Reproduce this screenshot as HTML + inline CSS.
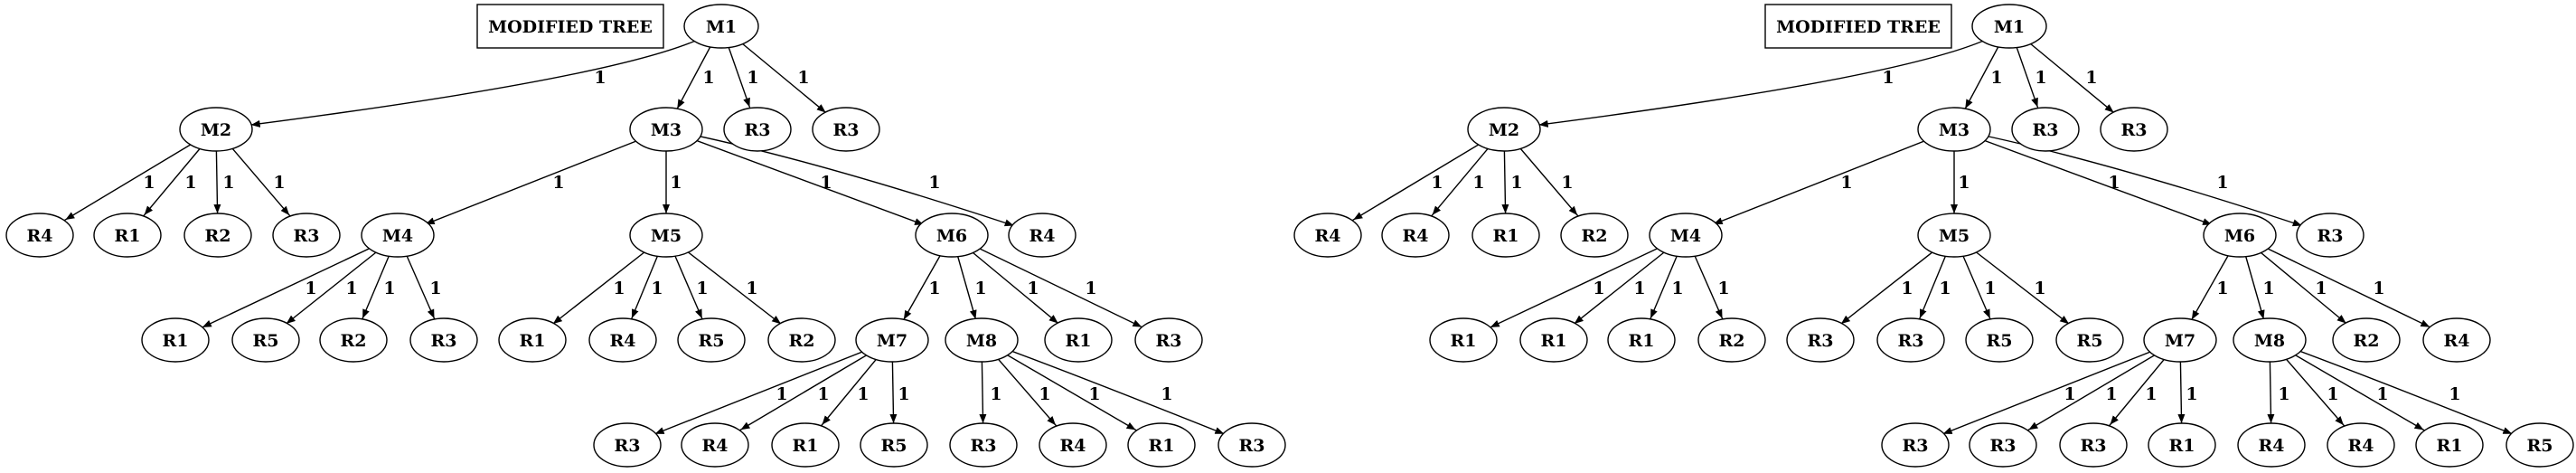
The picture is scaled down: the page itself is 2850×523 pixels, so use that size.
<!DOCTYPE html>
<html><head><meta charset="utf-8"><style>
html,body{margin:0;padding:0;background:#fff}
svg{display:block}
text{font-family:"DejaVu Serif","Liberation Serif",serif;font-weight:bold;font-size:19px;text-anchor:middle;fill:#000}
.e{stroke:#000;stroke-width:1.4;fill:none}
ellipse{fill:#fff;stroke:#000;stroke-width:1.4}
</style></head><body>
<svg width="2850" height="523" viewBox="0 0 2850 523" xmlns="http://www.w3.org/2000/svg">
<defs>
<marker id="m24" markerUnits="userSpaceOnUse" markerWidth="12" markerHeight="10" refX="34" refY="5" orient="auto"><path d="M0,1 L10,5 L0,9 z" fill="#000"/></marker>
<marker id="m26" markerUnits="userSpaceOnUse" markerWidth="12" markerHeight="10" refX="36" refY="5" orient="auto"><path d="M0,1 L10,5 L0,9 z" fill="#000"/></marker>
<marker id="m29" markerUnits="userSpaceOnUse" markerWidth="12" markerHeight="10" refX="39" refY="5" orient="auto"><path d="M0,1 L10,5 L0,9 z" fill="#000"/></marker>
<marker id="m33" markerUnits="userSpaceOnUse" markerWidth="12" markerHeight="10" refX="43" refY="5" orient="auto"><path d="M0,1 L10,5 L0,9 z" fill="#000"/></marker>
<marker id="m36" markerUnits="userSpaceOnUse" markerWidth="12" markerHeight="10" refX="49" refY="5" orient="auto"><path d="M0,1 L10,5 L0,9 z" fill="#000"/></marker>
</defs>

<!-- TREE 1 -->
<g>
<path class="e" d="M798,29 Q740,80 239,143" marker-end="url(#m36)"/>
<line class="e" x1="798" y1="29" x2="737" y2="143" marker-end="url(#m26)"/>
<line class="e" x1="798" y1="29" x2="838" y2="143" marker-end="url(#m26)"/>
<line class="e" x1="798" y1="29" x2="936" y2="143" marker-end="url(#m29)"/>
<line class="e" x1="239" y1="143" x2="44" y2="260" marker-end="url(#m33)"/>
<line class="e" x1="239" y1="143" x2="141" y2="260" marker-end="url(#m29)"/>
<line class="e" x1="239" y1="143" x2="241" y2="260" marker-end="url(#m24)"/>
<line class="e" x1="239" y1="143" x2="339" y2="260" marker-end="url(#m29)"/>
<line class="e" x1="737" y1="143" x2="440" y2="260" marker-end="url(#m33)"/>
<line class="e" x1="737" y1="143" x2="737" y2="260" marker-end="url(#m24)"/>
<line class="e" x1="737" y1="143" x2="1053" y2="260" marker-end="url(#m33)"/>
<path class="e" d="M737,143 Q900,175 1153,260" marker-end="url(#m33)"/>
<line class="e" x1="440" y1="260" x2="194" y2="376" marker-end="url(#m33)"/>
<line class="e" x1="440" y1="260" x2="294" y2="376" marker-end="url(#m29)"/>
<line class="e" x1="440" y1="260" x2="391" y2="376" marker-end="url(#m26)"/>
<line class="e" x1="440" y1="260" x2="491" y2="376" marker-end="url(#m26)"/>
<line class="e" x1="737" y1="260" x2="589" y2="376" marker-end="url(#m29)"/>
<line class="e" x1="737" y1="260" x2="689" y2="376" marker-end="url(#m26)"/>
<line class="e" x1="737" y1="260" x2="787" y2="376" marker-end="url(#m26)"/>
<line class="e" x1="737" y1="260" x2="887" y2="376" marker-end="url(#m29)"/>
<line class="e" x1="1053" y1="260" x2="987" y2="376" marker-end="url(#m26)"/>
<line class="e" x1="1053" y1="260" x2="1086" y2="376" marker-end="url(#m24)"/>
<line class="e" x1="1053" y1="260" x2="1193" y2="376" marker-end="url(#m29)"/>
<line class="e" x1="1053" y1="260" x2="1293" y2="376" marker-end="url(#m33)"/>
<path class="e" d="M987,376 Q900,410 694,492" marker-end="url(#m33)"/>
<line class="e" x1="987" y1="376" x2="791" y2="492" marker-end="url(#m33)"/>
<line class="e" x1="987" y1="376" x2="891" y2="492" marker-end="url(#m29)"/>
<line class="e" x1="987" y1="376" x2="989" y2="492" marker-end="url(#m24)"/>
<line class="e" x1="1086" y1="376" x2="1088" y2="492" marker-end="url(#m24)"/>
<line class="e" x1="1086" y1="376" x2="1187" y2="492" marker-end="url(#m29)"/>
<line class="e" x1="1086" y1="376" x2="1285" y2="492" marker-end="url(#m33)"/>
<path class="e" d="M1086,376 Q1180,410 1385,492" marker-end="url(#m33)"/>
<text x="664" y="92">1</text><text x="784" y="92">1</text><text x="833" y="92">1</text><text x="889" y="92">1</text>
<text x="165" y="208">1</text><text x="211" y="208">1</text><text x="253" y="208">1</text><text x="309" y="208">1</text>
<text x="618" y="208">1</text><text x="748" y="208">1</text><text x="914" y="208">1</text><text x="1034" y="208">1</text>
<text x="344" y="325">1</text><text x="389" y="325">1</text><text x="431" y="325">1</text><text x="482" y="325">1</text>
<text x="685" y="325">1</text><text x="727" y="325">1</text><text x="777" y="325">1</text><text x="832" y="325">1</text>
<text x="1034" y="325">1</text><text x="1085" y="325">1</text><text x="1143" y="325">1</text><text x="1207" y="325">1</text>
<text x="865" y="442">1</text><text x="911" y="442">1</text><text x="955" y="442">1</text><text x="1000" y="442">1</text>
<text x="1102" y="442">1</text><text x="1156" y="442">1</text><text x="1211" y="442">1</text><text x="1291" y="442">1</text>
<rect x="528" y="5" width="206" height="48" fill="#fff" stroke="#000" stroke-width="1.4"/>
<text x="631" y="36">MODIFIED TREE</text>
<ellipse cx="798" cy="29" rx="41" ry="24"/><text x="798" y="36">M1</text>
<ellipse cx="239" cy="143" rx="40" ry="24"/><text x="239" y="150">M2</text>
<ellipse cx="737" cy="143" rx="40" ry="24"/><text x="737" y="150">M3</text>
<ellipse cx="838" cy="143" rx="37" ry="24"/><text x="838" y="150">R3</text>
<ellipse cx="936" cy="143" rx="37" ry="24"/><text x="936" y="150">R3</text>
<ellipse cx="44" cy="260" rx="37" ry="24"/><text x="44" y="267">R4</text>
<ellipse cx="141" cy="260" rx="37" ry="24"/><text x="141" y="267">R1</text>
<ellipse cx="241" cy="260" rx="37" ry="24"/><text x="241" y="267">R2</text>
<ellipse cx="339" cy="260" rx="37" ry="24"/><text x="339" y="267">R3</text>
<ellipse cx="440" cy="260" rx="40" ry="24"/><text x="440" y="267">M4</text>
<ellipse cx="737" cy="260" rx="40" ry="24"/><text x="737" y="267">M5</text>
<ellipse cx="1053" cy="260" rx="40" ry="24"/><text x="1053" y="267">M6</text>
<ellipse cx="1153" cy="260" rx="37" ry="24"/><text x="1153" y="267">R4</text>
<ellipse cx="194" cy="376" rx="37" ry="24"/><text x="194" y="383">R1</text>
<ellipse cx="294" cy="376" rx="37" ry="24"/><text x="294" y="383">R5</text>
<ellipse cx="391" cy="376" rx="37" ry="24"/><text x="391" y="383">R2</text>
<ellipse cx="491" cy="376" rx="37" ry="24"/><text x="491" y="383">R3</text>
<ellipse cx="589" cy="376" rx="37" ry="24"/><text x="589" y="383">R1</text>
<ellipse cx="689" cy="376" rx="37" ry="24"/><text x="689" y="383">R4</text>
<ellipse cx="787" cy="376" rx="37" ry="24"/><text x="787" y="383">R5</text>
<ellipse cx="887" cy="376" rx="37" ry="24"/><text x="887" y="383">R2</text>
<ellipse cx="987" cy="376" rx="40" ry="24"/><text x="987" y="383">M7</text>
<ellipse cx="1086" cy="376" rx="40" ry="24"/><text x="1086" y="383">M8</text>
<ellipse cx="1193" cy="376" rx="37" ry="24"/><text x="1193" y="383">R1</text>
<ellipse cx="1293" cy="376" rx="37" ry="24"/><text x="1293" y="383">R3</text>
<ellipse cx="694" cy="492" rx="37" ry="24"/><text x="694" y="499">R3</text>
<ellipse cx="791" cy="492" rx="37" ry="24"/><text x="791" y="499">R4</text>
<ellipse cx="891" cy="492" rx="37" ry="24"/><text x="891" y="499">R1</text>
<ellipse cx="989" cy="492" rx="37" ry="24"/><text x="989" y="499">R5</text>
<ellipse cx="1088" cy="492" rx="37" ry="24"/><text x="1088" y="499">R3</text>
<ellipse cx="1187" cy="492" rx="37" ry="24"/><text x="1187" y="499">R4</text>
<ellipse cx="1285" cy="492" rx="37" ry="24"/><text x="1285" y="499">R1</text>
<ellipse cx="1385" cy="492" rx="37" ry="24"/><text x="1385" y="499">R3</text>
</g>

<!-- TREE 2 -->
<g transform="translate(1425,0)">
<path class="e" d="M798,29 Q740,80 239,143" marker-end="url(#m36)"/>
<line class="e" x1="798" y1="29" x2="737" y2="143" marker-end="url(#m26)"/>
<line class="e" x1="798" y1="29" x2="838" y2="143" marker-end="url(#m26)"/>
<line class="e" x1="798" y1="29" x2="936" y2="143" marker-end="url(#m29)"/>
<line class="e" x1="239" y1="143" x2="44" y2="260" marker-end="url(#m33)"/>
<line class="e" x1="239" y1="143" x2="141" y2="260" marker-end="url(#m29)"/>
<line class="e" x1="239" y1="143" x2="241" y2="260" marker-end="url(#m24)"/>
<line class="e" x1="239" y1="143" x2="339" y2="260" marker-end="url(#m29)"/>
<line class="e" x1="737" y1="143" x2="440" y2="260" marker-end="url(#m33)"/>
<line class="e" x1="737" y1="143" x2="737" y2="260" marker-end="url(#m24)"/>
<line class="e" x1="737" y1="143" x2="1053" y2="260" marker-end="url(#m33)"/>
<path class="e" d="M737,143 Q900,175 1153,260" marker-end="url(#m33)"/>
<line class="e" x1="440" y1="260" x2="194" y2="376" marker-end="url(#m33)"/>
<line class="e" x1="440" y1="260" x2="294" y2="376" marker-end="url(#m29)"/>
<line class="e" x1="440" y1="260" x2="391" y2="376" marker-end="url(#m26)"/>
<line class="e" x1="440" y1="260" x2="491" y2="376" marker-end="url(#m26)"/>
<line class="e" x1="737" y1="260" x2="589" y2="376" marker-end="url(#m29)"/>
<line class="e" x1="737" y1="260" x2="689" y2="376" marker-end="url(#m26)"/>
<line class="e" x1="737" y1="260" x2="787" y2="376" marker-end="url(#m26)"/>
<line class="e" x1="737" y1="260" x2="887" y2="376" marker-end="url(#m29)"/>
<line class="e" x1="1053" y1="260" x2="987" y2="376" marker-end="url(#m26)"/>
<line class="e" x1="1053" y1="260" x2="1086" y2="376" marker-end="url(#m24)"/>
<line class="e" x1="1053" y1="260" x2="1193" y2="376" marker-end="url(#m29)"/>
<line class="e" x1="1053" y1="260" x2="1293" y2="376" marker-end="url(#m33)"/>
<path class="e" d="M987,376 Q900,410 694,492" marker-end="url(#m33)"/>
<line class="e" x1="987" y1="376" x2="791" y2="492" marker-end="url(#m33)"/>
<line class="e" x1="987" y1="376" x2="891" y2="492" marker-end="url(#m29)"/>
<line class="e" x1="987" y1="376" x2="989" y2="492" marker-end="url(#m24)"/>
<line class="e" x1="1086" y1="376" x2="1088" y2="492" marker-end="url(#m24)"/>
<line class="e" x1="1086" y1="376" x2="1187" y2="492" marker-end="url(#m29)"/>
<line class="e" x1="1086" y1="376" x2="1285" y2="492" marker-end="url(#m33)"/>
<path class="e" d="M1086,376 Q1180,410 1385,492" marker-end="url(#m33)"/>
<text x="664" y="92">1</text><text x="784" y="92">1</text><text x="833" y="92">1</text><text x="889" y="92">1</text>
<text x="165" y="208">1</text><text x="211" y="208">1</text><text x="253" y="208">1</text><text x="309" y="208">1</text>
<text x="618" y="208">1</text><text x="748" y="208">1</text><text x="914" y="208">1</text><text x="1034" y="208">1</text>
<text x="344" y="325">1</text><text x="389" y="325">1</text><text x="431" y="325">1</text><text x="482" y="325">1</text>
<text x="685" y="325">1</text><text x="727" y="325">1</text><text x="777" y="325">1</text><text x="832" y="325">1</text>
<text x="1034" y="325">1</text><text x="1085" y="325">1</text><text x="1143" y="325">1</text><text x="1207" y="325">1</text>
<text x="865" y="442">1</text><text x="911" y="442">1</text><text x="955" y="442">1</text><text x="1000" y="442">1</text>
<text x="1102" y="442">1</text><text x="1156" y="442">1</text><text x="1211" y="442">1</text><text x="1291" y="442">1</text>
<rect x="528" y="5" width="206" height="48" fill="#fff" stroke="#000" stroke-width="1.4"/>
<text x="631" y="36">MODIFIED TREE</text>
<ellipse cx="798" cy="29" rx="41" ry="24"/><text x="798" y="36">M1</text>
<ellipse cx="239" cy="143" rx="40" ry="24"/><text x="239" y="150">M2</text>
<ellipse cx="737" cy="143" rx="40" ry="24"/><text x="737" y="150">M3</text>
<ellipse cx="838" cy="143" rx="37" ry="24"/><text x="838" y="150">R3</text>
<ellipse cx="936" cy="143" rx="37" ry="24"/><text x="936" y="150">R3</text>
<ellipse cx="44" cy="260" rx="37" ry="24"/><text x="44" y="267">R4</text>
<ellipse cx="141" cy="260" rx="37" ry="24"/><text x="141" y="267">R4</text>
<ellipse cx="241" cy="260" rx="37" ry="24"/><text x="241" y="267">R1</text>
<ellipse cx="339" cy="260" rx="37" ry="24"/><text x="339" y="267">R2</text>
<ellipse cx="440" cy="260" rx="40" ry="24"/><text x="440" y="267">M4</text>
<ellipse cx="737" cy="260" rx="40" ry="24"/><text x="737" y="267">M5</text>
<ellipse cx="1053" cy="260" rx="40" ry="24"/><text x="1053" y="267">M6</text>
<ellipse cx="1153" cy="260" rx="37" ry="24"/><text x="1153" y="267">R3</text>
<ellipse cx="194" cy="376" rx="37" ry="24"/><text x="194" y="383">R1</text>
<ellipse cx="294" cy="376" rx="37" ry="24"/><text x="294" y="383">R1</text>
<ellipse cx="391" cy="376" rx="37" ry="24"/><text x="391" y="383">R1</text>
<ellipse cx="491" cy="376" rx="37" ry="24"/><text x="491" y="383">R2</text>
<ellipse cx="589" cy="376" rx="37" ry="24"/><text x="589" y="383">R3</text>
<ellipse cx="689" cy="376" rx="37" ry="24"/><text x="689" y="383">R3</text>
<ellipse cx="787" cy="376" rx="37" ry="24"/><text x="787" y="383">R5</text>
<ellipse cx="887" cy="376" rx="37" ry="24"/><text x="887" y="383">R5</text>
<ellipse cx="987" cy="376" rx="40" ry="24"/><text x="987" y="383">M7</text>
<ellipse cx="1086" cy="376" rx="40" ry="24"/><text x="1086" y="383">M8</text>
<ellipse cx="1193" cy="376" rx="37" ry="24"/><text x="1193" y="383">R2</text>
<ellipse cx="1293" cy="376" rx="37" ry="24"/><text x="1293" y="383">R4</text>
<ellipse cx="694" cy="492" rx="37" ry="24"/><text x="694" y="499">R3</text>
<ellipse cx="791" cy="492" rx="37" ry="24"/><text x="791" y="499">R3</text>
<ellipse cx="891" cy="492" rx="37" ry="24"/><text x="891" y="499">R3</text>
<ellipse cx="989" cy="492" rx="37" ry="24"/><text x="989" y="499">R1</text>
<ellipse cx="1088" cy="492" rx="37" ry="24"/><text x="1088" y="499">R4</text>
<ellipse cx="1187" cy="492" rx="37" ry="24"/><text x="1187" y="499">R4</text>
<ellipse cx="1285" cy="492" rx="37" ry="24"/><text x="1285" y="499">R1</text>
<ellipse cx="1385" cy="492" rx="37" ry="24"/><text x="1385" y="499">R5</text>
</g>
</svg>
</body></html>
